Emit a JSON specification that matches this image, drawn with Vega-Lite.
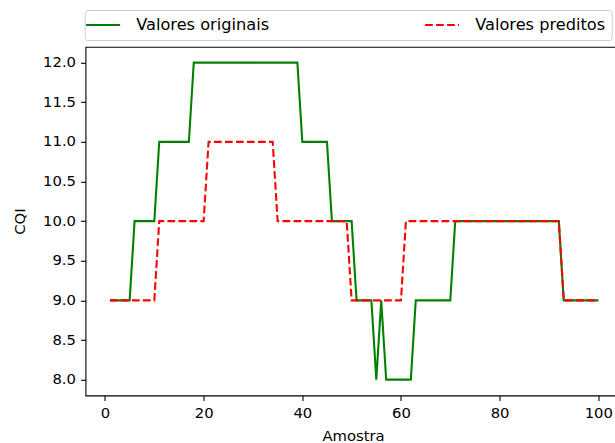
{
  "$schema": "https://vega.github.io/schema/vega-lite/v6.json",
  "width": 530,
  "height": 348.7,
  "autosize": {"type": "none"},
  "padding": {"left": 85.5, "top": 46.8, "right": 0, "bottom": 47.5},
  "background": "white",
  "config": {
    "font": "DejaVu Sans",
    "view": {"stroke": "black", "strokeWidth": 1.1},
    "axis": {
      "domain": false, "grid": false,
      "tickColor": "black", "tickWidth": 1.1, "tickSize": 5,
      "labelPadding": 5, "labelFontSize": 14.8, "labelColor": "black", "labelFont": "DejaVu Sans",
      "titleFontSize": 14.8, "titleFontWeight": "normal", "titleColor": "black", "titleFont": "DejaVu Sans"
    }
  },
  "data": {"values": [
    {"Amostra":1,"Valores originais":9,"Valores preditos":9},
    {"Amostra":2,"Valores originais":9,"Valores preditos":9},
    {"Amostra":3,"Valores originais":9,"Valores preditos":9},
    {"Amostra":4,"Valores originais":9,"Valores preditos":9},
    {"Amostra":5,"Valores originais":9,"Valores preditos":9},
    {"Amostra":6,"Valores originais":10,"Valores preditos":9},
    {"Amostra":7,"Valores originais":10,"Valores preditos":9},
    {"Amostra":8,"Valores originais":10,"Valores preditos":9},
    {"Amostra":9,"Valores originais":10,"Valores preditos":9},
    {"Amostra":10,"Valores originais":10,"Valores preditos":9},
    {"Amostra":11,"Valores originais":11,"Valores preditos":10},
    {"Amostra":12,"Valores originais":11,"Valores preditos":10},
    {"Amostra":13,"Valores originais":11,"Valores preditos":10},
    {"Amostra":14,"Valores originais":11,"Valores preditos":10},
    {"Amostra":15,"Valores originais":11,"Valores preditos":10},
    {"Amostra":16,"Valores originais":11,"Valores preditos":10},
    {"Amostra":17,"Valores originais":11,"Valores preditos":10},
    {"Amostra":18,"Valores originais":12,"Valores preditos":10},
    {"Amostra":19,"Valores originais":12,"Valores preditos":10},
    {"Amostra":20,"Valores originais":12,"Valores preditos":10},
    {"Amostra":21,"Valores originais":12,"Valores preditos":11},
    {"Amostra":22,"Valores originais":12,"Valores preditos":11},
    {"Amostra":23,"Valores originais":12,"Valores preditos":11},
    {"Amostra":24,"Valores originais":12,"Valores preditos":11},
    {"Amostra":25,"Valores originais":12,"Valores preditos":11},
    {"Amostra":26,"Valores originais":12,"Valores preditos":11},
    {"Amostra":27,"Valores originais":12,"Valores preditos":11},
    {"Amostra":28,"Valores originais":12,"Valores preditos":11},
    {"Amostra":29,"Valores originais":12,"Valores preditos":11},
    {"Amostra":30,"Valores originais":12,"Valores preditos":11},
    {"Amostra":31,"Valores originais":12,"Valores preditos":11},
    {"Amostra":32,"Valores originais":12,"Valores preditos":11},
    {"Amostra":33,"Valores originais":12,"Valores preditos":11},
    {"Amostra":34,"Valores originais":12,"Valores preditos":11},
    {"Amostra":35,"Valores originais":12,"Valores preditos":10},
    {"Amostra":36,"Valores originais":12,"Valores preditos":10},
    {"Amostra":37,"Valores originais":12,"Valores preditos":10},
    {"Amostra":38,"Valores originais":12,"Valores preditos":10},
    {"Amostra":39,"Valores originais":12,"Valores preditos":10},
    {"Amostra":40,"Valores originais":11,"Valores preditos":10},
    {"Amostra":41,"Valores originais":11,"Valores preditos":10},
    {"Amostra":42,"Valores originais":11,"Valores preditos":10},
    {"Amostra":43,"Valores originais":11,"Valores preditos":10},
    {"Amostra":44,"Valores originais":11,"Valores preditos":10},
    {"Amostra":45,"Valores originais":11,"Valores preditos":10},
    {"Amostra":46,"Valores originais":10,"Valores preditos":10},
    {"Amostra":47,"Valores originais":10,"Valores preditos":10},
    {"Amostra":48,"Valores originais":10,"Valores preditos":10},
    {"Amostra":49,"Valores originais":10,"Valores preditos":10},
    {"Amostra":50,"Valores originais":10,"Valores preditos":9},
    {"Amostra":51,"Valores originais":9,"Valores preditos":9},
    {"Amostra":52,"Valores originais":9,"Valores preditos":9},
    {"Amostra":53,"Valores originais":9,"Valores preditos":9},
    {"Amostra":54,"Valores originais":9,"Valores preditos":9},
    {"Amostra":55,"Valores originais":8,"Valores preditos":9},
    {"Amostra":56,"Valores originais":9,"Valores preditos":9},
    {"Amostra":57,"Valores originais":8,"Valores preditos":9},
    {"Amostra":58,"Valores originais":8,"Valores preditos":9},
    {"Amostra":59,"Valores originais":8,"Valores preditos":9},
    {"Amostra":60,"Valores originais":8,"Valores preditos":9},
    {"Amostra":61,"Valores originais":8,"Valores preditos":10},
    {"Amostra":62,"Valores originais":8,"Valores preditos":10},
    {"Amostra":63,"Valores originais":9,"Valores preditos":10},
    {"Amostra":64,"Valores originais":9,"Valores preditos":10},
    {"Amostra":65,"Valores originais":9,"Valores preditos":10},
    {"Amostra":66,"Valores originais":9,"Valores preditos":10},
    {"Amostra":67,"Valores originais":9,"Valores preditos":10},
    {"Amostra":68,"Valores originais":9,"Valores preditos":10},
    {"Amostra":69,"Valores originais":9,"Valores preditos":10},
    {"Amostra":70,"Valores originais":9,"Valores preditos":10},
    {"Amostra":71,"Valores originais":10,"Valores preditos":10},
    {"Amostra":72,"Valores originais":10,"Valores preditos":10},
    {"Amostra":73,"Valores originais":10,"Valores preditos":10},
    {"Amostra":74,"Valores originais":10,"Valores preditos":10},
    {"Amostra":75,"Valores originais":10,"Valores preditos":10},
    {"Amostra":76,"Valores originais":10,"Valores preditos":10},
    {"Amostra":77,"Valores originais":10,"Valores preditos":10},
    {"Amostra":78,"Valores originais":10,"Valores preditos":10},
    {"Amostra":79,"Valores originais":10,"Valores preditos":10},
    {"Amostra":80,"Valores originais":10,"Valores preditos":10},
    {"Amostra":81,"Valores originais":10,"Valores preditos":10},
    {"Amostra":82,"Valores originais":10,"Valores preditos":10},
    {"Amostra":83,"Valores originais":10,"Valores preditos":10},
    {"Amostra":84,"Valores originais":10,"Valores preditos":10},
    {"Amostra":85,"Valores originais":10,"Valores preditos":10},
    {"Amostra":86,"Valores originais":10,"Valores preditos":10},
    {"Amostra":87,"Valores originais":10,"Valores preditos":10},
    {"Amostra":88,"Valores originais":10,"Valores preditos":10},
    {"Amostra":89,"Valores originais":10,"Valores preditos":10},
    {"Amostra":90,"Valores originais":10,"Valores preditos":10},
    {"Amostra":91,"Valores originais":10,"Valores preditos":10},
    {"Amostra":92,"Valores originais":10,"Valores preditos":10},
    {"Amostra":93,"Valores originais":9,"Valores preditos":9},
    {"Amostra":94,"Valores originais":9,"Valores preditos":9},
    {"Amostra":95,"Valores originais":9,"Valores preditos":9},
    {"Amostra":96,"Valores originais":9,"Valores preditos":9},
    {"Amostra":97,"Valores originais":9,"Valores preditos":9},
    {"Amostra":98,"Valores originais":9,"Valores preditos":9},
    {"Amostra":99,"Valores originais":9,"Valores preditos":9},
    {"Amostra":100,"Valores originais":9,"Valores preditos":9}
  ]},
  "transform": [{"fold": ["Valores originais", "Valores preditos"], "as": ["serie", "CQI"]}],
  "mark": {"type": "line", "strokeWidth": 2.08, "clip": true},
  "encoding": {
    "x": {
      "field": "Amostra", "type": "quantitative",
      "scale": {"domain": [-3.95, 103.49], "nice": false, "zero": false},
      "axis": {"values": [0, 20, 40, 60, 80, 100], "title": "Amostra", "titleX": 267.5, "titleY": 40.5, "titleBaseline": "middle", "titleAlign": "center", "labelFlush": false}
    },
    "y": {
      "field": "CQI", "type": "quantitative",
      "scale": {"domain": [7.8, 12.2], "nice": false, "zero": false},
      "axis": {"values": [8, 8.5, 9, 9.5, 10, 10.5, 11, 11.5, 12], "format": ".1f", "title": "CQI", "titleX": -65.5, "titleY": 174.35, "titleBaseline": "middle", "titleAlign": "center", "titleAngle": -90, "labelFlush": false}
    },
    "color": {
      "field": "serie", "type": "nominal",
      "scale": {"domain": ["Valores originais", "Valores preditos"], "range": ["#008000", "#ff0000"]},
      "legend": {"title": null, "orient": "none", "legendX": -0.8, "legendY": -36.8, "direction": "horizontal", "columns": 2, "columnPadding": 151, "symbolType": "M-3.4,0H3.4", "symbolSize": 100, "symbolOffset": 3.8, "symbolStrokeWidth": 2.08, "labelOffset": 25, "labelFontSize": 16.2, "labelColor": "black", "labelFont": "DejaVu Sans", "padding": 6.5, "strokeColor": "#cccccc", "fillColor": "white", "cornerRadius": 3, "labelLimit": 220}
    },
    "strokeDash": {
      "field": "serie", "type": "nominal",
      "scale": {"domain": ["Valores originais", "Valores preditos"], "range": [[1, 0], [7.7, 3.3]]},
      "legend": {"title": null, "orient": "none", "legendX": -0.8, "legendY": -36.8, "direction": "horizontal", "columns": 2, "columnPadding": 151, "symbolType": "M-3.4,0H3.4", "symbolSize": 100, "symbolOffset": 3.8, "symbolStrokeWidth": 2.08, "labelOffset": 25, "labelFontSize": 16.2, "labelColor": "black", "labelFont": "DejaVu Sans", "padding": 6.5, "strokeColor": "#cccccc", "fillColor": "white", "cornerRadius": 3, "labelLimit": 220}
    }
  }
}
